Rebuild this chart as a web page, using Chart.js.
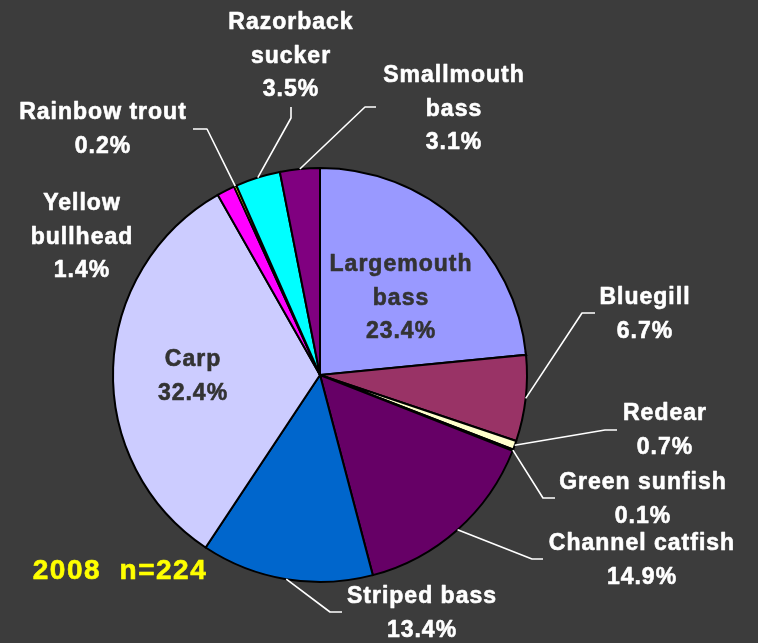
<!DOCTYPE html>
<html>
<head>
<meta charset="utf-8">
<script src="https://cdn.jsdelivr.net/npm/chart.js@4"></script>
<style>
  html, body { margin: 0; padding: 0; background: #3c3c3c; }
  #wrap { width: 758px; height: 643px; position: relative; }
</style>
</head>
<body>
<div id="wrap"><canvas id="c" width="758" height="643"></canvas></div>
<script>
// ---- data ----
const categories = ['Largemouth bass', 'Bluegill', 'Redear', 'Green sunfish', 'Channel catfish',
  'Striped bass', 'Carp', 'Yellow bullhead', 'Rainbow trout', 'Razorback sucker', 'Smallmouth bass'];
const values = [23.4, 6.7, 0.7, 0.1, 14.9, 13.4, 32.4, 1.4, 0.2, 3.5, 3.1];
const labelLines = [['Largemouth', 'bass'], ['Bluegill'], ['Redear'], ['Green sunfish'], ['Channel catfish'],
  ['Striped bass'], ['Carp'], ['Yellow', 'bullhead'], ['Rainbow trout'], ['Razorback', 'sucker'], ['Smallmouth', 'bass']];
const sliceColors = ['#9999ff', '#993366', '#ffffcc', '#006666', '#660066',
  '#0066cc', '#ccccff', '#ff00ff', '#ffff00', '#00ffff', '#800080'];
const titleText = '2008  n=224';

// ---- label layout (text centre x, first line middle y, leader elbow, leader end) ----
const labelLayout = [
  { x: 401, y: 265, color: '#333333' },
  { x: 645, y: 298, elbow: [582, 313], end: [595, 313] },
  { x: 665, y: 414, elbow: [605, 430], end: [617, 430] },
  { x: 643, y: 483, elbow: [543, 498], end: [555, 498] },
  { x: 642, y: 544, elbow: [532, 559], end: [543, 559] },
  { x: 422, y: 597, elbow: [330, 612], end: [342, 612] },
  { x: 193, y: 360, color: '#333333' },
  { x: 82, y: 204 },
  { x: 103, y: 113, elbow: [207, 129], end: [193, 129] },
  { x: 291, y: 23, elbow: [291, 118], end: [291, 107] },
  { x: 454, y: 76, elbow: [365, 107], end: [376, 107] }
];

const bgPlugin = {
  id: 'bg',
  beforeDraw(chart) {
    const ctx = chart.ctx;
    ctx.save();
    ctx.fillStyle = '#3c3c3c';
    ctx.fillRect(0, 0, chart.width, chart.height);
    ctx.restore();
  }
};

function boldText(ctx, t, x, y, color) {
  ctx.fillStyle = color;
  ctx.strokeStyle = color;
  ctx.lineWidth = 0.6;
  ctx.lineJoin = 'round';
  ctx.fillText(t, x, y);
  ctx.strokeText(t, x, y);
}

const labelPlugin = {
  id: 'labels',
  afterDraw(chart) {
    const ctx = chart.ctx;
    const meta = chart.getDatasetMeta(0);
    ctx.save();
    meta.data.forEach((arc, i) => {
      const L = labelLayout[i];
      if (L.elbow) {
        const mid = (arc.startAngle + arc.endAngle) / 2;
        const ax = arc.x + Math.cos(mid) * arc.outerRadius;
        const ay = arc.y + Math.sin(mid) * arc.outerRadius;
        ctx.strokeStyle = '#ffffff';
        ctx.lineWidth = 1.6;
        ctx.beginPath();
        ctx.moveTo(ax, ay);
        ctx.lineTo(L.elbow[0], L.elbow[1]);
        ctx.lineTo(L.end[0], L.end[1]);
        ctx.stroke();
      }
      const lines = labelLines[i].concat([values[i].toFixed(1) + '%']);
      ctx.font = 'bold 23px "Liberation Sans", Arial, sans-serif';
      ctx.letterSpacing = '1px';
      ctx.textAlign = 'center';
      ctx.textBaseline = 'middle';
      lines.forEach((t, k) => {
        boldText(ctx, t, L.x, L.y + k * 33.5, L.color || '#ffffff');
      });
    });
    ctx.font = 'bold 28px "Liberation Sans", Arial, sans-serif';
    ctx.letterSpacing = '1.5px';
    ctx.textAlign = 'center';
    ctx.textBaseline = 'middle';
    boldText(ctx, titleText, 120, 571, '#ffff00');
    ctx.restore();
  }
};

new Chart(document.getElementById('c'), {
  type: 'pie',
  data: {
    labels: categories,
    datasets: [{
      data: values,
      backgroundColor: sliceColors,
      borderColor: '#000000',
      borderWidth: 2,
      borderJoinStyle: 'miter',
      hoverOffset: 0,
      radius: 207
    }]
  },
  options: {
    responsive: false,
    animation: false,
    events: [],
    layout: { padding: { left: 113, right: 231, top: 168, bottom: 61 } },
    plugins: { legend: { display: false }, tooltip: { enabled: false } }
  },
  plugins: [bgPlugin, labelPlugin]
});
</script>
</body>
</html>
